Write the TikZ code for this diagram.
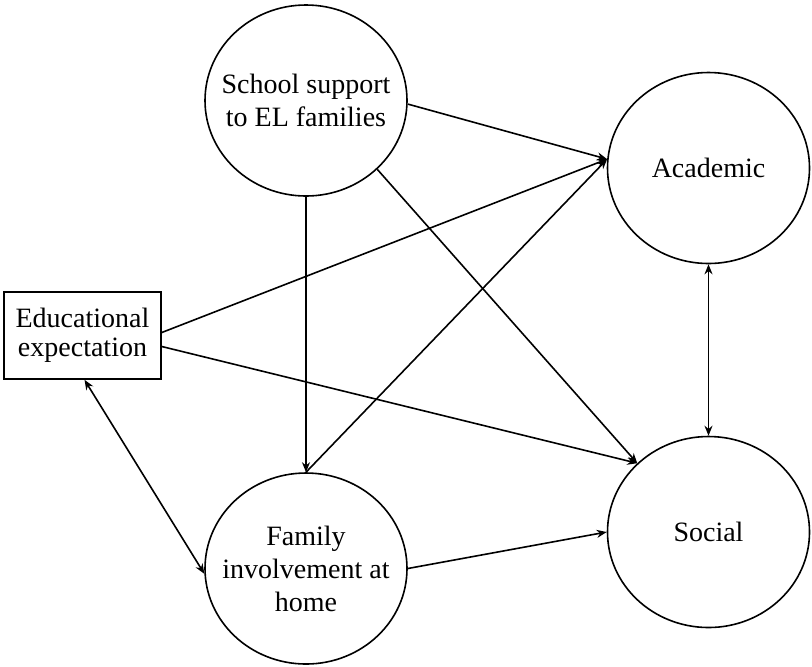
\documentclass[tikz,border=0pt]{standalone}
\usepackage{fontspec}
\setmainfont{Liberation Serif}
\usetikzlibrary{arrows.meta,shapes.geometric,calc}

\tikzset{latent/.style={draw,ellipse,minimum width=101pt,minimum height=95.5pt,inner sep=-10pt,align=center,font=\fontsize{14}{16.5}\selectfont},
manifest/.style={draw,rectangle,minimum width=78.5pt,minimum height=43.5pt,inner sep=0pt,align=center,font=\fontsize{14}{14.5}\selectfont},
effect/.style={-{Stealth[length=5pt,width=4pt]}},
covary/.style={{Stealth[length=5pt,width=4pt]}-{Stealth[length=5pt,width=4pt]}}}

\begin{document}
\begin{tikzpicture}[x=0.5pt,y=-0.5pt,line width=0.8pt]
\useasboundingbox (0,0) rectangle (812,666);

%% Coordinates of nodes.
\coordinate (c-sch) at (306,100.5);
\coordinate (c-fam) at (306,568.5);
\coordinate (c-aca) at (708.5,168);
\coordinate (c-soc) at (708.5,532);
\coordinate (c-edu) at (82.5,335.5);

%% constructs
\node [latent] (sch) at (c-sch) {School support\\to EL families};
\node [latent] (fam) at (c-fam) {Family\\involvement at\\home};
\node [latent] (aca) at (c-aca) {Academic};
\node [latent] (soc) at (c-soc) {Social};
\node [manifest] (edu) at (c-edu) {Educational\\expectation};

%% arrow ends
\coordinate (aca-in) at (aca.175);
\coordinate (soc-in) at (soc.136);

%% directed paths
\draw [effect] (sch.-2) -- (aca-in);
\draw [effect] (sch.south) -- (fam.north);
\draw [effect] (sch.-44) -- (soc-in);
\draw [effect] ($(edu.east)+(0,-3)$) -- (aca-in);
\draw [effect] ($(edu.east)+(0,11)$) -- (soc-in);
\draw [effect] (fam.north) -- (aca-in);
\draw [effect] (fam.east) -- (soc.west);

%% correlations
\draw [covary] ($(edu.south)+(2,0)$) -- (fam.183);
\draw [covary] (aca.south) -- (soc.north);

\end{tikzpicture}
\end{document}
